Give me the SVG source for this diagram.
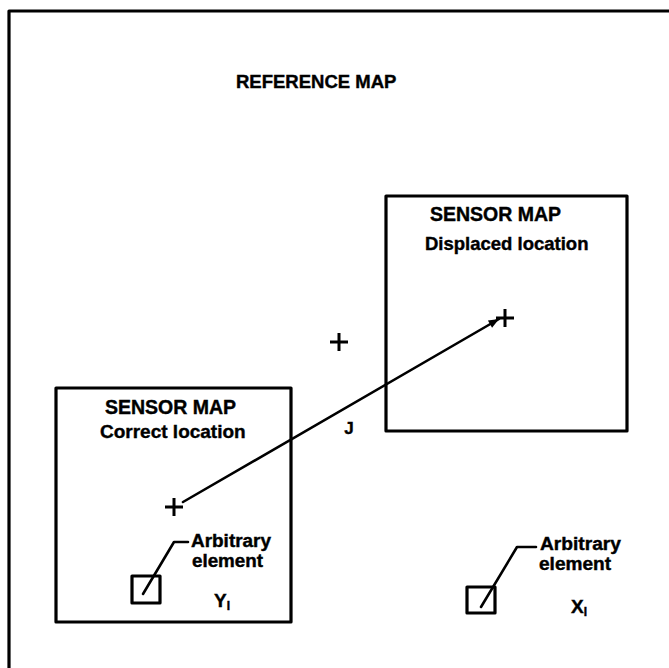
<svg xmlns="http://www.w3.org/2000/svg" width="669" height="668" viewBox="0 0 669 668">
<style>
.ln{fill:none;stroke:#000;stroke-width:3.2;stroke-linecap:round;stroke-linejoin:round}
.th{fill:none;stroke:#000;stroke-width:2.6;stroke-linecap:round;stroke-linejoin:round}
.t{font-family:"Liberation Sans",Arial,sans-serif;font-weight:bold;fill:#000;stroke:#000;stroke-width:0.4}
</style>
<defs>
<marker id="ah" viewBox="0 0 10 10" refX="10" refY="5" markerWidth="8.5" markerHeight="4" orient="auto" markerUnits="strokeWidth">
<path d="M0,1 L10,5 L0,9 Z" fill="#000"/>
</marker>
<g id="cross"><path d="M-9,0 H9 M0,-9 V9" stroke="#000" stroke-width="3" fill="none"/></g>
</defs>
<rect width="669" height="668" fill="#fff"/>
<g id="reference-map">
<path class="ln" d="M9,668 V11 H669"/>
<text class="t" x="236" y="88" font-size="18.5">REFERENCE MAP</text>
<use href="#cross" x="339" y="342"/>
</g>
<g id="sensor-displaced">
<rect class="ln" x="386" y="196" width="241" height="235"/>
<text class="t" x="430" y="221" font-size="19.5">SENSOR MAP</text>
<text class="t" x="425" y="250" font-size="18.5">Displaced location</text>
<use href="#cross" x="505" y="318"/>
</g>
<g id="sensor-correct">
<rect class="ln" x="56" y="388" width="235" height="234"/>
<text class="t" x="105" y="414" font-size="19.5">SENSOR MAP</text>
<text class="t" x="100" y="438" font-size="19">Correct location</text>
<use href="#cross" x="174" y="507"/>
</g>
<g id="element-y">
<rect class="ln" x="132" y="576" width="28" height="27"/>
<text class="t" x="191" y="547" font-size="17.5" textLength="80" lengthAdjust="spacingAndGlyphs">Arbitrary</text>
<text class="t" x="192" y="567" font-size="17.5" textLength="71" lengthAdjust="spacingAndGlyphs">element</text>
<text class="t" x="214" y="607" font-size="19">Y<tspan font-size="12" dy="3">I</tspan></text>
</g>
<g id="element-x">
<rect class="ln" x="467" y="587" width="28" height="26"/>
<text class="t" x="540" y="550" font-size="17.5" textLength="81" lengthAdjust="spacingAndGlyphs">Arbitrary</text>
<text class="t" x="539" y="570" font-size="17.5" textLength="72" lengthAdjust="spacingAndGlyphs">element</text>
<text class="t" x="571" y="613" font-size="19">X<tspan font-size="12" dy="3">I</tspan></text>
</g>
<g id="connectors">
<path class="th" d="M183,502 L499,319" marker-end="url(#ah)"/>
<path class="th" d="M143,594 L174,542 H188"/>
<path class="th" d="M481,607 L517,547 H536"/>
<text class="t" x="349" y="434" font-size="17" text-anchor="middle">J</text>
</g>
</svg>
